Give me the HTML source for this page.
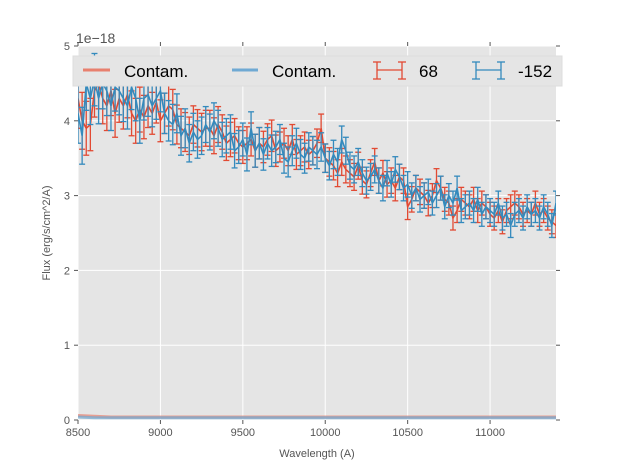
<!DOCTYPE html>
<html><head><meta charset="utf-8"><style>
body{margin:0;background:#fff;}
svg{display:block;font-family:"Liberation Sans",sans-serif;}
</style></head><body>
<svg id="chart" width="617" height="467"></svg>
<script>
const xTicks=[8500,9000,9500,10000,10500,11000];
const yTicks=[0,1,2,3,4,5];
const waveStart=8500, waveStep=25;
const fluxRed=[4.3,4.0,3.9,3.95,4.4,4.5,4.3,4.2,4.4,4.1,4.3,4.2,4.35,4.1,4.0,4.15,4.05,4.2,4.1,4.25,
4.0,4.1,4.2,4.15,3.95,3.9,3.85,3.8,3.95,3.9,3.85,3.9,3.9,3.8,3.95,3.85,3.7,3.75,3.8,3.7,
3.65,3.7,3.75,3.6,3.7,3.65,3.75,3.8,3.6,3.65,3.7,3.6,3.75,3.55,3.6,3.65,3.55,3.6,3.7,3.9,
3.5,3.45,3.4,3.3,3.45,3.35,3.3,3.25,3.4,3.2,3.15,3.3,3.45,3.2,3.3,3.15,3.2,3.1,3.25,3.2,
2.85,2.95,3.1,3.05,3.0,2.9,3.0,3.2,3.1,2.95,2.9,2.7,2.8,2.95,2.9,2.85,2.95,2.8,2.9,2.85,
2.75,2.7,2.8,2.65,2.8,2.85,2.9,2.85,2.75,2.8,2.75,2.9,2.75,2.8,2.7,2.65,2.6];
const errRed=[0.4,0.38,0.36,0.35,0.35,0.34,0.34,0.33,0.33,0.32,0.32,0.31,0.31,0.3,0.3,0.3,0.29,0.29,0.28,0.28,
0.28,0.27,0.27,0.27,0.26,0.26,0.26,0.25,0.25,0.25,0.25,0.24,0.24,0.24,0.24,0.23,0.23,0.23,0.23,0.22,
0.22,0.22,0.22,0.22,0.21,0.21,0.21,0.21,0.21,0.2,0.2,0.2,0.2,0.2,0.2,0.2,0.19,0.19,0.19,0.19,
0.19,0.19,0.19,0.18,0.18,0.18,0.18,0.18,0.18,0.18,0.18,0.18,0.18,0.17,0.17,0.17,0.17,0.17,0.17,0.17,
0.17,0.17,0.17,0.17,0.17,0.17,0.16,0.16,0.16,0.16,0.16,0.16,0.16,0.16,0.16,0.16,0.16,0.16,0.16,0.16,
0.16,0.16,0.16,0.16,0.16,0.16,0.16,0.16,0.16,0.16,0.16,0.16,0.16,0.16,0.16,0.16,0.16];
const fluxBlue=[4.1,3.8,4.5,4.3,4.55,4.3,4.5,4.4,4.2,4.45,4.4,4.3,4.2,4.45,4.3,4.0,4.3,4.35,4.2,4.3,
4.4,4.1,4.0,3.95,4.1,3.8,3.9,3.7,3.85,3.75,3.8,3.95,3.85,4.0,3.9,3.75,3.8,3.85,3.6,3.65,
3.75,3.55,3.9,3.6,3.7,3.55,3.7,3.6,3.65,3.75,3.5,3.45,3.6,3.7,3.55,3.5,3.65,3.6,3.55,3.65,
3.5,3.4,3.55,3.45,3.75,3.6,3.4,3.35,3.45,3.3,3.2,3.25,3.35,3.2,3.1,3.3,3.15,3.35,3.25,3.1,
3.15,3.0,3.1,2.95,3.0,3.05,2.9,3.0,3.1,2.85,3.0,2.9,3.1,2.8,2.85,2.9,2.8,2.95,2.75,2.85,
2.8,2.75,2.9,2.7,2.75,2.6,2.75,2.8,2.7,2.85,2.75,2.8,2.7,2.85,2.75,2.6,2.9];
const errBlue=errRed.slice();
const contamRed=[0.06,0.05,0.04,0.04,0.04,0.04,0.04,0.04,0.04,0.04,0.04,0.04,0.04,0.04,0.04,0.04,0.04,0.04,0.04,0.04,0.04,0.04,0.04,0.04,0.04,0.04,0.04,0.04,0.04,0.04];
const contamBlue=[0.04,0.03,0.03,0.03,0.03,0.03,0.03,0.03,0.03,0.03,0.03,0.03,0.03,0.03,0.03,0.03,0.03,0.03,0.03,0.03,0.03,0.03,0.03,0.03,0.03,0.03,0.03,0.03,0.03,0.03];

const NS="http://www.w3.org/2000/svg";
const svg=document.getElementById('chart');
const L=78,R=556,T=46,B=420;
const xs=v=>L+(v-8500)/(11400-8500)*(R-L);
const ys=v=>B-v/5*(B-T);
function mk(tag,attrs,parent){const e=document.createElementNS(NS,tag);for(const k in attrs)e.setAttribute(k,attrs[k]);(parent||svg).appendChild(e);return e;}

let e=mk('rect',{x:L,y:T,width:R-L,height:B-T,fill:'#e5e5e5'});


const grid=mk('g',{stroke:'#fff','stroke-width':1});


xTicks.forEach(t=>{mk('line',{x1:xs(t),x2:xs(t),y1:T,y2:B},grid);});
yTicks.forEach(t=>{mk('line',{x1:L,x2:R,y1:ys(t),y2:ys(t)},grid);});

const clip=mk('clipPath',{id:'pc'});mk('rect',{x:L,y:T,width:R-L,height:B-T},clip);
const plot=mk('g',{'clip-path':'url(#pc)'});

function contam(arr,color,name){
  const step=2900/(arr.length-1);
  const p=mk('polyline',{points:arr.map((v,i)=>xs(8500+i*step)+','+ys(v)).join(' '),fill:'none',stroke:color,'stroke-width':3,opacity:0.7},plot);
  
  
}
contam(contamRed,'#e8806e','contam-red-line');
contam(contamBlue,'#6fa9d3','contam-blue-line');

function series(vals,errs,color,name){
  const g=mk('g',{stroke:color,fill:'none','stroke-width':1.3},plot);
  
  
  vals.forEach((v,i)=>{
    const x=xs(waveStart+i*waveStep),y1=ys(v-errs[i]),y2=ys(v+errs[i]);
    mk('line',{x1:x,x2:x,y1:y1,y2:y2},g);
    mk('line',{x1:x-3,x2:x+3,y1:y1,y2:y1},g);
    mk('line',{x1:x-3,x2:x+3,y1:y2,y2:y2},g);
  });
  mk('polyline',{points:vals.map((v,i)=>xs(waveStart+i*waveStep)+','+ys(v)).join(' '),'stroke-width':1.6},g);
}
series(fluxRed,errRed,'#e24a33','series-68');
series(fluxBlue,errBlue,'#348abd','series-minus152');

const ax=mk('g',{stroke:'#555','stroke-width':1});
xTicks.forEach(t=>{mk('line',{x1:xs(t),x2:xs(t),y1:B,y2:B+4},ax);mk('line',{x1:xs(t),x2:xs(t),y1:T,y2:T-4},ax);});
yTicks.forEach(t=>{mk('line',{x1:L-4,x2:L,y1:ys(t),y2:ys(t)},ax);mk('line',{x1:R,x2:R+4,y1:ys(t),y2:ys(t)},ax);});
xTicks.forEach(t=>{const tx=mk('text',{x:xs(t),y:B+16,'text-anchor':'middle','font-size':11,fill:'#555'});tx.textContent=t;
});
yTicks.forEach(t=>{const tx=mk('text',{x:L-8,y:ys(t)+4,'text-anchor':'end','font-size':11,fill:'#555'});tx.textContent=t;
});
</script>
<svg width="617" height="467" style="position:absolute;left:0;top:0" font-family="Liberation Sans, sans-serif">
<text x="76" y="43" font-size="14" fill="#555">1e−18</text>
<text x="317" y="457" font-size="11" fill="#555" text-anchor="middle">Wavelength (A)</text>
<text x="50" y="233" font-size="11" fill="#555" text-anchor="middle" transform="rotate(-90 50 233)">Flux (erg/s/cm^2/A)</text>
<g>
<rect x="73" y="56" width="489" height="30" fill="#e5e5e5" stroke="#ddd"/>
<line x1="83" x2="110" y1="70" y2="70" stroke="#e8806e" stroke-width="3"/>
<text x="124" y="77" font-size="17" fill="#000">Contam.</text>
<line x1="232" x2="258" y1="70" y2="70" stroke="#6fa9d3" stroke-width="3"/>
<text x="272" y="77" font-size="17" fill="#000">Contam.</text>
<g stroke="#e24a33" stroke-width="1.3"><line x1="377" x2="402" y1="70" y2="70"/><line x1="377" x2="377" y1="62" y2="79"/><line x1="402" x2="402" y1="62" y2="79"/><line x1="373" x2="381" y1="62" y2="62"/><line x1="373" x2="381" y1="79" y2="79"/><line x1="398" x2="406" y1="62" y2="62"/><line x1="398" x2="406" y1="79" y2="79"/></g>
<text x="419" y="77" font-size="17" fill="#000">68</text>
<g stroke="#348abd" stroke-width="1.3"><line x1="476" x2="501" y1="70" y2="70"/><line x1="476" x2="476" y1="62" y2="79"/><line x1="501" x2="501" y1="62" y2="79"/><line x1="472" x2="480" y1="62" y2="62"/><line x1="472" x2="480" y1="79" y2="79"/><line x1="497" x2="505" y1="62" y2="62"/><line x1="497" x2="505" y1="79" y2="79"/></g>
<text x="518" y="77" font-size="17" fill="#000">-152</text>
</g>
</svg>
</body></html>
